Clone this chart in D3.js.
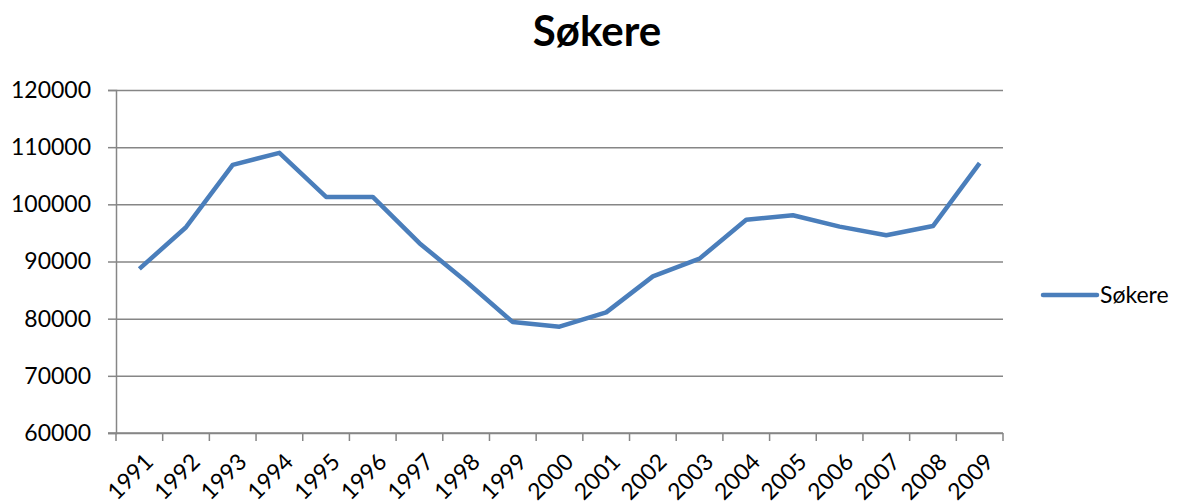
<!DOCTYPE html>
<html>
<head>
<meta charset="utf-8">
<script src="https://cdn.jsdelivr.net/npm/d3@7"></script>
<style>
  body { margin: 0; background: #fff; }
  text { font-family: Lato, "Open Sans", sans-serif; fill: #000; }
</style>
</head>
<body>
<div class="container"></div>
<script>
// data
var years = ["1991","1992","1993","1994","1995","1996","1997","1998","1999","2000",
             "2001","2002","2003","2004","2005","2006","2007","2008","2009"];
var sokere = [88700, 96000, 106900, 109000, 101300, 101300, 93200, 86500, 79400, 78600,
              81100, 87400, 90500, 97300, 98100, 96100, 94600, 96200, 107200];
var yTicks = [60000, 70000, 80000, 90000, 100000, 110000, 120000];
var seriesName = "Søkere";

var width = 1178, height = 504,
    margin = {top: 90, right: 175, bottom: 71, left: 116};

var svg = d3.select("div.container").append("svg")
    .attr("width", width)
    .attr("height", height);

var x = d3.scaleBand()
    .domain(years)
    .range([margin.left, width - margin.right]);

var y = d3.scaleLinear()
    .domain([60000, 120000])
    .range([height - margin.bottom, margin.top]);

var lineColor = "#4a7ebb", gridColor = "#868686";

// gridlines
svg.append("g")
    .selectAll("line")
    .data(yTicks)
    .enter().append("line")
    .attr("x1", margin.left)
    .attr("x2", width - margin.right)
    .attr("y1", function(d) { return y(d) + 0.5; })
    .attr("y2", function(d) { return y(d) + 0.5; })
    .attr("stroke", gridColor)
    .attr("stroke-width", 1.5);

// y axis
var yAxis = svg.append("g")
    .attr("transform", "translate(" + margin.left + ",0)")
    .call(d3.axisLeft(y).tickValues(yTicks).tickSize(8).tickPadding(17).tickFormat(d3.format("d")));
yAxis.select(".domain").attr("stroke", gridColor).attr("stroke-width", 1.5);
yAxis.selectAll(".tick line").attr("stroke", gridColor).attr("stroke-width", 1.5);
yAxis.selectAll("text").style("font-size", "23px").attr("fill", "#000");

// x axis: ticks at band boundaries
var xAxis = svg.append("g")
    .attr("transform", "translate(0," + (height - margin.bottom) + ")");
xAxis.append("line")
    .attr("x1", margin.left - 8)
    .attr("x2", width - margin.right)
    .attr("stroke", gridColor)
    .attr("stroke-width", 1.5);
var bounds = years.map(function(d) { return x(d); }).concat([x.range()[1]]);
xAxis.selectAll(".xt")
    .data(bounds)
    .enter().append("line")
    .attr("class", "xt")
    .attr("x1", function(d) { return d; })
    .attr("x2", function(d) { return d; })
    .attr("y1", 0)
    .attr("y2", 8)
    .attr("stroke", gridColor)
    .attr("stroke-width", 1.5);
xAxis.selectAll(".xl")
    .data(years)
    .enter().append("text")
    .attr("class", "xl")
    .attr("text-anchor", "end")
    .style("font-size", "23px")
    .attr("transform", function(d) {
        return "translate(" + (x(d) + x.bandwidth() / 2 + 4) + ",19) rotate(-45)";
    })
    .attr("dy", "0.7em")
    .text(function(d) { return d; });

// the line
var line = d3.line()
    .x(function(d, i) { return x(years[i]) + x.bandwidth() / 2; })
    .y(function(d) { return y(d); });

svg.append("path")
    .datum(sokere)
    .attr("fill", "none")
    .attr("stroke", lineColor)
    .attr("stroke-width", 4.5)
    .attr("stroke-linejoin", "round")
    .attr("d", line);

// title
svg.append("text")
    .attr("x", 597)
    .attr("y", 46)
    .attr("text-anchor", "middle")
    .style("font-size", "42px")
    .style("font-weight", "bold")
    .text(seriesName);

// legend
var lg = svg.append("g").attr("transform", "translate(1043,295)");
lg.append("line")
    .attr("x1", 0).attr("x2", 54)
    .attr("stroke", lineColor)
    .attr("stroke-width", 4.5)
    .attr("stroke-linecap", "round");
lg.append("text")
    .attr("x", 57)
    .attr("dy", "0.35em")
    .style("font-size", "23px")
    .text(seriesName);
</script>
</body>
</html>
